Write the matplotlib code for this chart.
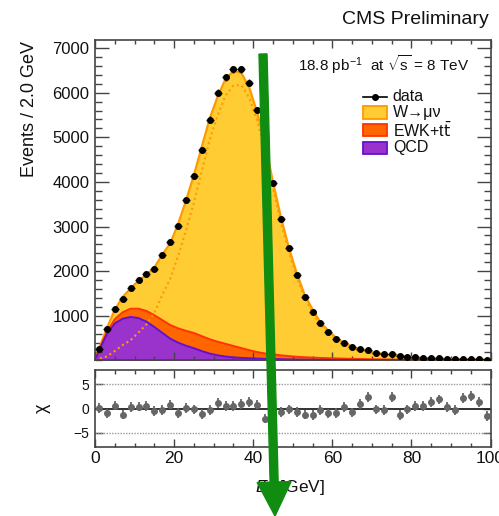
import numpy as np
import matplotlib.pyplot as plt
from matplotlib.patches import Rectangle, FancyArrow
from matplotlib.lines import Line2D
from matplotlib.ticker import MultipleLocator, FixedLocator

plt.rcParams['font.family'] = ['Liberation Sans', 'DejaVu Sans']
plt.rcParams['mathtext.fontset'] = 'custom'
plt.rcParams['mathtext.rm'] = 'Liberation Sans'
plt.rcParams['mathtext.it'] = 'Liberation Sans:italic'

# 2 GeV bins from 0 to 100
centers = np.arange(1, 100, 2)

data = np.array([268, 700, 1157, 1380, 1626, 1805, 1940, 2058, 2356, 2662,
                 3005, 3586, 4139, 4713, 5398, 6003, 6346, 6525, 6525, 6226,
                 5615, 4720, 3965, 3170, 2521, 1924, 1425, 1096, 843, 642,
                 485, 396, 298, 262, 231, 172, 134, 152, 97, 83,
                 70, 62, 58, 52, 37, 30, 40, 37, 27, 12])

qcd = np.array([220, 590, 830, 935, 975, 950, 870, 750, 620, 490,
                400, 330, 275, 210, 155, 115, 88, 70, 58, 50,
                43, 37, 32, 28, 24, 21, 19, 17, 15, 14,
                13, 12, 11, 10, 9, 8, 8, 7, 7, 6,
                6, 5, 5, 5, 4, 4, 4, 3, 3, 3])

ewk = np.array([10, 45, 95, 145, 185, 210, 240, 265, 285, 305,
                320, 335, 340, 335, 320, 305, 285, 255, 220, 180,
                145, 120, 105, 88, 74, 62, 54, 48, 42, 37,
                33, 29, 26, 23, 20, 18, 16, 14, 13, 12,
                11, 10, 9, 8, 7, 7, 6, 6, 5, 5])

wmunu = np.array([35, 90, 212, 346, 454, 628, 808, 1068, 1466, 1826,
                  2334, 2915, 3537, 4244, 4945, 5490, 5933, 6160, 6166, 5886,
                  5367, 4707, 3859, 3093, 2433, 1872, 1399, 1077, 796, 616,
                  459, 349, 275, 213, 166, 149, 113, 104, 90, 67,
                  49, 43, 34, 27, 24, 21, 18, 15, 13, 11])

chi = np.array([0.15, -1.0, 0.6, -1.25, 0.3, 0.4, 0.5, -0.55, -0.3, 0.8,
                -0.9, 0.1, -0.2, -1.1, -0.3, 1.2, 0.5, 0.5, 1.0, 1.4,
                0.8, -2.1, -0.5, -0.7, -0.2, -0.7, -1.25, -1.4, -0.35, -1.0,
                -0.9, 0.3, -0.8, 1.0, 2.4, -0.2, -0.3, 2.4, -1.3, -0.2,
                0.5, 0.5, 1.4, 1.9, 0.3, -0.3, 2.2, 2.6, 1.3, -1.6])

c_w, c_w_edge = '#ffcc33', '#ff9900'
c_ewk, c_ewk_edge = '#ff6600', '#ff3300'
c_qcd, c_qcd_edge = '#9933cc', '#6611cc'
frame = '#444444'
ink = '#111111'

fig = plt.figure(figsize=(4.99, 5.16), dpi=100)
ax = fig.add_axes([0.1904, 0.3014, 0.7926, 0.6211])
ax2 = fig.add_axes([0.1904, 0.1337, 0.7926, 0.1492])

x = np.concatenate([[0], centers, [100]])


def curve(v):
    return np.concatenate([[0], v, [v[-1]]])


bkg = qcd + ewk
total = bkg + wmunu

ax.fill_between(x, 0, curve(total), color=c_w, lw=0)
ax.plot(x, curve(total), color=c_w_edge, lw=1.6)
ax.fill_between(x, 0, curve(bkg), color=c_ewk, lw=0)
ax.plot(x, curve(bkg), color=c_ewk_edge, lw=1.4)
ax.fill_between(x, 0, curve(qcd), color=c_qcd, lw=0)
ax.plot(x, curve(qcd), color=c_qcd_edge, lw=1.4)
ax.plot(x, curve(wmunu), color=c_w_edge, ls=(0, (1, 1.5)), lw=1.5)

ax.errorbar(centers, data, xerr=1, yerr=np.sqrt(data), fmt='o', ms=4,
            color='black', elinewidth=1, capsize=0, zorder=5)

ax.set_xlim(0, 100)
ax.set_ylim(0, 7180)
ax.yaxis.set_major_locator(FixedLocator([1000, 2000, 3000, 4000, 5000, 6000, 7000]))
ax.yaxis.set_minor_locator(MultipleLocator(200))
ax.xaxis.set_major_locator(MultipleLocator(20))
ax.xaxis.set_minor_locator(MultipleLocator(5))
ax.tick_params(axis='both', which='both', direction='in', top=True, right=True,
               color=frame, labelsize=12, labelcolor=ink)
ax.tick_params(axis='y', which='major', length=10, width=1, pad=4)
ax.tick_params(axis='y', which='minor', length=5, width=1)
ax.tick_params(axis='x', which='major', length=6, width=1, labelbottom=False)
ax.tick_params(axis='x', which='minor', length=3, width=1)
for s in ax.spines.values():
    s.set_color(frame)
    s.set_linewidth(1.2)

# legend drawn by hand, ROOT style
lx, lw, lh = 0.678, 0.061, 0.039
ax.add_line(Line2D([lx, lx + lw], [0.823, 0.823], color='black', lw=1.2,
                   transform=ax.transAxes))
ax.plot([lx + lw / 2], [0.823], 'o', color='black', ms=4, transform=ax.transAxes)
for yb, fc, ec in [(0.7535, c_w, c_w_edge), (0.699, c_ewk, c_ewk_edge), (0.643, c_qcd, c_qcd_edge)]:
    ax.add_patch(Rectangle((lx, yb), lw, lh, transform=ax.transAxes,
                           facecolor=fc, edgecolor=ec, lw=1.3, zorder=6))
for txt, yc in [('data', 0.823), ('W→μν', 0.773), ('QCD', 0.663)]:
    ax.text(0.753, yc, txt, transform=ax.transAxes, fontsize=11.5,
            va='center', ha='left', color=ink)
ax.text(0.753, 0.719, r'EWK+t$\bar{\mathrm{t}}$', transform=ax.transAxes, fontsize=11.5,
        va='center', ha='left', color=ink, math_fontfamily='dejavusans')

ax.text(0.5125, 0.922, r'18.8 pb$^{\mathregular{-1}}$  at $\sqrt{\mathregular{s}}$ = 8 TeV',
        transform=ax.transAxes, fontsize=11, va='center', ha='left', color=ink)

# chi panel
ax2.axhline(0, color='#222222', lw=1.3)
for lvl in (5, -5):
    ax2.axhline(lvl, color='#999999', lw=1, ls=(0, (1, 1)))
ax2.errorbar(centers, chi, yerr=1, fmt='o', ms=4, color='#666666',
             elinewidth=1.3, capsize=0, zorder=5)
ax2.set_xlim(0, 100)
ax2.set_ylim(-8, 8)
ax2.yaxis.set_major_locator(FixedLocator([-5, 0, 5]))
ax2.xaxis.set_major_locator(MultipleLocator(20))
ax2.xaxis.set_minor_locator(MultipleLocator(5))
ax2.tick_params(axis='both', which='both', direction='in', top=True, right=True,
                color=frame, labelcolor=ink)
ax2.tick_params(axis='y', which='major', length=6, width=1, labelsize=10, pad=4)
ax2.tick_params(axis='x', which='major', length=6, width=1, labelsize=12.5, pad=3)
ax2.tick_params(axis='x', which='minor', length=3, width=1)
for s in ax2.spines.values():
    s.set_color(frame)
    s.set_linewidth(1.2)

fig.text(0.060, 0.9205, 'Events / 2.0 GeV', rotation=90, ha='center', va='top',
         fontsize=13, color=ink)
fig.text(0.085, 0.209, 'χ', rotation=90, ha='center', va='center',
         fontsize=13, color=ink)
fig.text(0.583, 0.056, r'$/\!\!\!\!E_{\mathregular{T}}$ [GeV]', ha='center', va='center',
         fontsize=12.5, color=ink)
fig.text(0.980, 0.963, 'CMS Preliminary', ha='right', va='center',
         fontsize=14, color=ink)

# green marker arrow over the plot
arrow = FancyArrow(2.63, 4.62, 0.12, -4.62, width=0.08, head_width=0.34,
                   head_length=0.34, length_includes_head=True,
                   color='#108c10', transform=fig.dpi_scale_trans, zorder=10)
fig.add_artist(arrow)

fig.savefig('out.png', dpi=100)
